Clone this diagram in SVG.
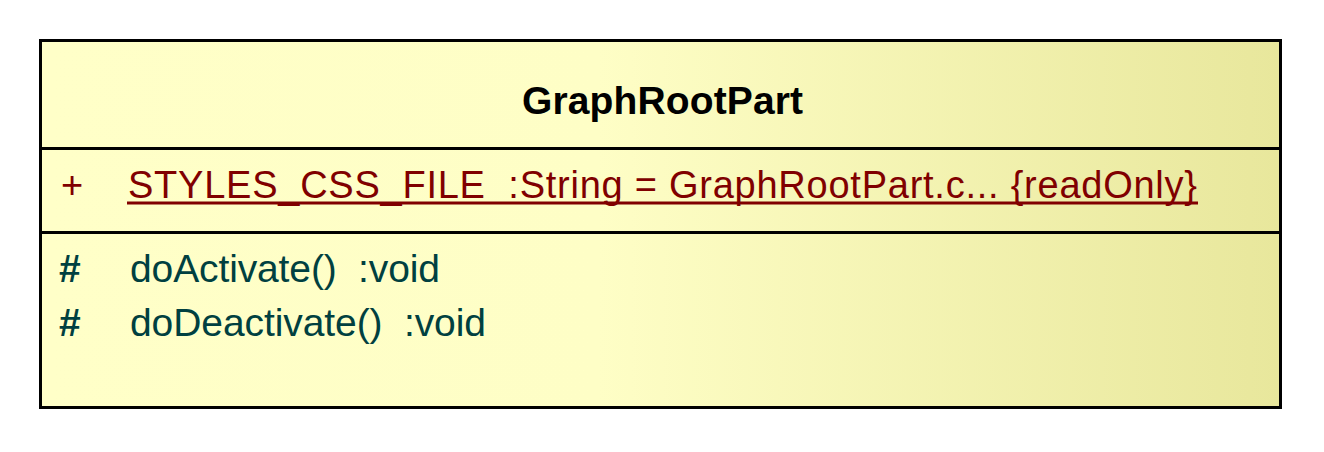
<svg xmlns="http://www.w3.org/2000/svg" width="1324" height="452" viewBox="0 0 1324 452">
<defs>
<linearGradient id="fill" x1="0" y1="0" x2="1" y2="0">
<stop offset="0" stop-color="#FFFFC8"/>
<stop offset="0.45" stop-color="#FEFEC6"/>
<stop offset="1" stop-color="#E8E79C"/>
</linearGradient>
</defs>
<style>
text{font-family:"Liberation Sans",Arial,sans-serif;font-size:38px}
.title{font-weight:bold;fill:#000;font-size:39px}
.attr{fill:#800000}
.op{fill:#004040;font-size:39px}
.vis{font-weight:bold}
</style>
<rect x="0" y="0" width="1324" height="452" fill="#fff"/>
<g id="GraphRootPart">
<rect x="40.5" y="40.5" width="1240" height="367" fill="url(#fill)" stroke="#000" stroke-width="3"/>
<line x1="40" y1="148.5" x2="1281" y2="148.5" stroke="#000" stroke-width="3"/>
<line x1="40" y1="232.5" x2="1281" y2="232.5" stroke="#000" stroke-width="3"/>
<text class="title" x="522" y="114" textLength="281" lengthAdjust="spacing">GraphRootPart</text>
<text class="attr" x="61" y="198">+</text>
<text class="attr" x="128" y="198" textLength="1069" lengthAdjust="spacing" xml:space="preserve">STYLES_CSS_FILE  :String = GraphRootPart.c... {readOnly}</text>
<line x1="127" y1="203" x2="1198" y2="203" stroke="#800000" stroke-width="3"/>
<text class="op vis" x="59" y="282">#</text>
<text class="op" x="130" y="282" textLength="310" lengthAdjust="spacing" xml:space="preserve">doActivate()  :void</text>
<text class="op vis" x="59" y="336">#</text>
<text class="op" x="130" y="336" textLength="356" lengthAdjust="spacing" xml:space="preserve">doDeactivate()  :void</text>
</g>
<g id="connectors"/>
</svg>
